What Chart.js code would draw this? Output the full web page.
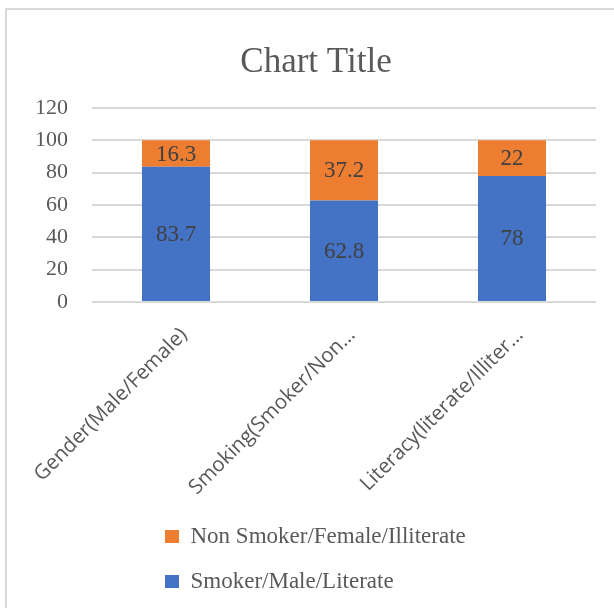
<!DOCTYPE html>
<html>
<head>
<meta charset="utf-8">
<script src="https://cdn.jsdelivr.net/npm/chart.js@4.4.1/dist/chart.umd.min.js"></script>
<style>
    html, body { margin: 0; padding: 0; background: #fff; overflow: hidden; }
    #frame { position: absolute; left: 5px; top: 8px; width: 800px; height: 800px; border: 2px solid #d9d9d9; }
    #wrap { position: absolute; left: 0; top: 0; width: 614px; height: 608px; }
</style>
</head>
<body>
<div id="frame"></div>
<div id="wrap"><canvas id="chart"></canvas></div>
<script>
var categories = ['Gender(Male/Female)', 'Smoking(Smoker/Non...', 'Literacy(literate/Illiter...'];
var smokerMaleLiterate = [83.7, 62.8, 78];
var nonSmokerFemaleIlliterate = [16.3, 37.2, 22];
var yMin = 0, yMax = 120, yStep = 20;

var serif = "'Liberation Serif', 'Times New Roman', serif";
var textGrey = '#595959';

// values written in the middle of each bar segment
var barValues = {
    id: 'barValues',
    afterDatasetsDraw: function(chart) {
        var ctx = chart.ctx;
        ctx.save();
        ctx.font = '23px ' + serif;
        ctx.fillStyle = '#404040';
        ctx.textAlign = 'center';
        ctx.textBaseline = 'middle';
        chart.data.datasets.forEach(function(ds, i) {
            chart.getDatasetMeta(i).data.forEach(function(bar, j) {
                ctx.fillText(String(ds.data[j]), bar.x, (bar.y + bar.base) / 2 + 1);
            });
        });
        ctx.restore();
    }
};

// legend lives in the chart area (one column); move it under the axis labels.
// title is centred on the whole frame, which runs past the right edge
var boxSpots = {
    id: 'boxSpots',
    beforeDraw: function(chart) {
        var lg = chart.legend;
        lg.left = 143;
        lg.right = 143 + 340;
        lg.width = 340;
        lg.top = 503;
        lg.bottom = 800;
        lg.height = 297;
        var tb = chart.titleBlock;
        tb.left = 36;
        tb.right = 596;
        tb.width = 560;
    }
};

new Chart(document.getElementById('chart'), {
    type: 'bar',
    data: {
        labels: categories,
        datasets: [{
            label: 'Smoker/Male/Literate',
            data: smokerMaleLiterate,
            backgroundColor: '#4472C4'
        }, {
            label: 'Non Smoker/Female/Illiterate',
            data: nonSmokerFemaleIlliterate,
            backgroundColor: '#ED7D31'
        }]
    },
    options: {
        responsive: true,
        maintainAspectRatio: false,
        animation: false,
        categoryPercentage: 1,
        barPercentage: 0.405,
        layout: { padding: { top: 9, left: 0, right: 18, bottom: 106 } },
        plugins: {
            title: {
                display: true,
                text: 'Chart Title',
                color: textGrey,
                font: { family: serif, size: 35, weight: 'normal' },
                padding: { top: 33, bottom: 24 }
            },
            legend: {
                position: 'chartArea',
                align: 'start',
                reverse: true,
                labels: {
                    color: textGrey,
                    font: { family: serif, size: 23 },
                    boxWidth: 14,
                    boxHeight: 13,
                    padding: 22
                }
            },
            tooltip: { enabled: false }
        },
        scales: {
            x: {
                stacked: true,
                grid: { display: false, drawTicks: false },
                border: { display: false },
                ticks: {
                    color: textGrey,
                    font: { family: "'Open Sans', sans-serif", size: 20.5 },
                    minRotation: 45,
                    maxRotation: 45,
                    autoSkip: false,
                    padding: 21,
                    labelOffset: 8
                },
                afterFit: function(scale) {
                    scale.height = 200;
                    scale.paddingLeft = 0;
                    scale.paddingRight = 0;
                }
            },
            y: {
                stacked: true,
                min: yMin,
                max: yMax,
                grid: { color: '#d9d9d9', lineWidth: 2, drawTicks: false },
                border: { display: false },
                ticks: {
                    stepSize: yStep,
                    color: textGrey,
                    font: { family: serif, size: 22 },
                    padding: 24
                },
                afterFit: function(scale) { scale.width = 92; }
            }
        }
    },
    plugins: [barValues, boxSpots]
});
</script>
</body>
</html>
